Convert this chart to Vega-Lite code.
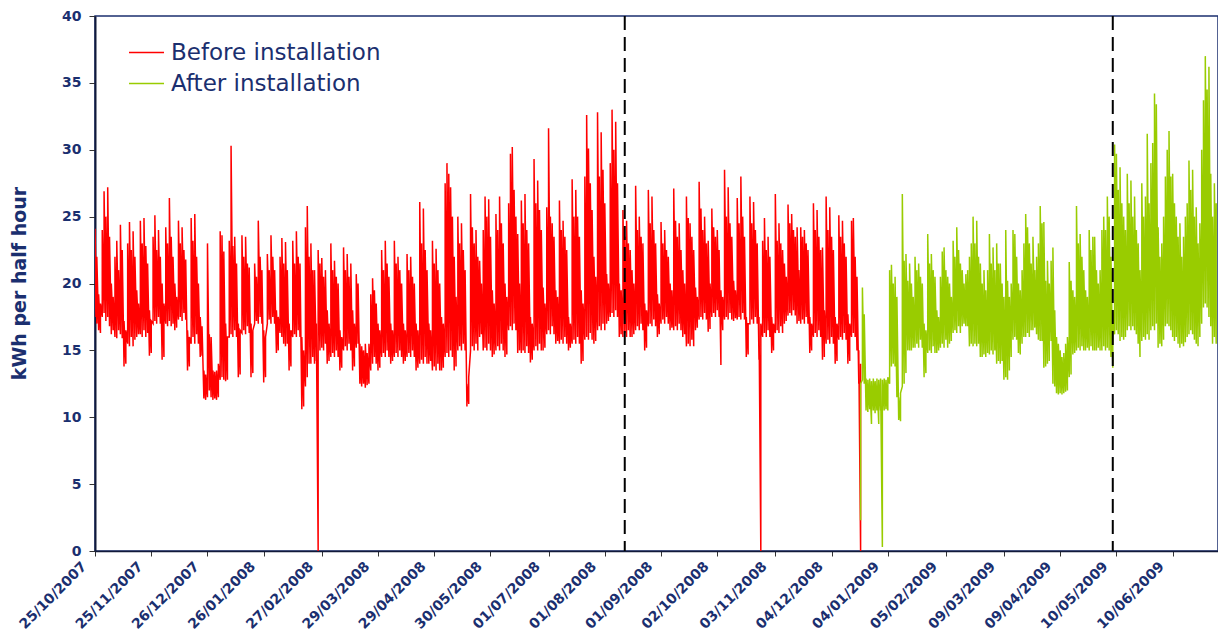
{
"$schema": "https://vega.github.io/schema/vega-lite/v6.json",
"width": 1123,
"height": 535,
"autosize": {"type": "none"},
"padding": {"left": 95, "top": 16, "right": 0, "bottom": 81},
"background": "white",
"config": {
  "view": {"stroke": "#1B2F6F", "strokeWidth": 1.5},
  "axis": {"grid": false, "labelFont": "DejaVu Sans", "labelFontWeight": "bold", "labelFontSize": 14, "labelColor": "#1B2F6F", "domainColor": "#111A3A", "tickColor": "#333333"}
},
"datasets": {
"before": [
{"d":"2007-10-25","l":17.5,"h":24.1},{"d":"2007-10-26","l":17,"h":22},{"d":"2007-10-27","l":16.5,"h":19.2},{"d":"2007-10-28","l":16.3,"h":18.5},
{"d":"2007-10-29","l":17.5,"h":24},{"d":"2007-10-30","l":17.8,"h":26.9},{"d":"2007-10-31","l":17.2,"h":25},{"d":"2007-11-01","l":17.5,"h":27.2},{"d":"2007-11-02","l":16.8,"h":23.5},{"d":"2007-11-03","l":16.2,"h":20},{"d":"2007-11-04","l":16.5,"h":19},
{"d":"2007-11-05","l":16,"h":22},{"d":"2007-11-06","l":15.9,"h":23.2},{"d":"2007-11-07","l":16.5,"h":21},{"d":"2007-11-08","l":16.2,"h":24.4},{"d":"2007-11-09","l":15.9,"h":22.5},{"d":"2007-11-10","l":13.8,"h":17.2},{"d":"2007-11-11","l":14,"h":16.5},
{"d":"2007-11-12","l":15.5,"h":23},{"d":"2007-11-13","l":15.3,"h":24.6},{"d":"2007-11-14","l":16,"h":22.5},{"d":"2007-11-15","l":15.3,"h":23.9},{"d":"2007-11-16","l":15.8,"h":22},{"d":"2007-11-17","l":16,"h":19.5},{"d":"2007-11-18","l":16.2,"h":18.5},
{"d":"2007-11-19","l":16.2,"h":24.7},{"d":"2007-11-20","l":16,"h":23},{"d":"2007-11-21","l":16.5,"h":24.9},{"d":"2007-11-22","l":16,"h":22.8},{"d":"2007-11-23","l":16.3,"h":21.5},{"d":"2007-11-24","l":14.6,"h":18},{"d":"2007-11-25","l":14.8,"h":17.2},
{"d":"2007-11-26","l":17,"h":23.5},{"d":"2007-11-27","l":17.2,"h":25.1},{"d":"2007-11-28","l":17,"h":22.5},{"d":"2007-11-29","l":17.5,"h":24},{"d":"2007-11-30","l":17,"h":22},{"d":"2007-12-01","l":14.3,"h":20},{"d":"2007-12-02","l":14.5,"h":18.5},
{"d":"2007-12-03","l":17,"h":24.2},{"d":"2007-12-04","l":16.8,"h":23},{"d":"2007-12-05","l":17.2,"h":26.4},{"d":"2007-12-06","l":16.8,"h":23.5},{"d":"2007-12-07","l":17,"h":22},{"d":"2007-12-08","l":16.5,"h":20},{"d":"2007-12-09","l":16.7,"h":19},
{"d":"2007-12-10","l":17.3,"h":24.7},{"d":"2007-12-11","l":17.5,"h":23},{"d":"2007-12-12","l":17.2,"h":24.2},{"d":"2007-12-13","l":17.8,"h":22.5},{"d":"2007-12-14","l":17.3,"h":21.8},{"d":"2007-12-15","l":13.5,"h":16.5},{"d":"2007-12-16","l":13.8,"h":16},
{"d":"2007-12-17","l":15.5,"h":24.9},{"d":"2007-12-18","l":16,"h":23.2},{"d":"2007-12-19","l":15.5,"h":25.2},{"d":"2007-12-20","l":16.2,"h":22},{"d":"2007-12-21","l":15.5,"h":20},{"d":"2007-12-22","l":14.5,"h":17.5},{"d":"2007-12-23","l":14.6,"h":16.8},
{"d":"2007-12-24","l":11.4,"h":13.5},{"d":"2007-12-25","l":11.3,"h":13.2},{"d":"2007-12-26","l":11.5,"h":23},{"d":"2007-12-27","l":12,"h":16.2},{"d":"2007-12-28","l":11.5,"h":16},{"d":"2007-12-29","l":11.3,"h":13.5},{"d":"2007-12-30","l":11.4,"h":13.4},
{"d":"2007-12-31","l":11.3,"h":13.5},{"d":"2008-01-01","l":11.5,"h":14},{"d":"2008-01-02","l":12.8,"h":23.9},{"d":"2008-01-03","l":13,"h":23.6},{"d":"2008-01-04","l":12.8,"h":22.4},{"d":"2008-01-05","l":12.7,"h":17},{"d":"2008-01-06","l":12.8,"h":16},
{"d":"2008-01-07","l":16,"h":23.2},{"d":"2008-01-08","l":16.2,"h":30.3},{"d":"2008-01-09","l":16,"h":22.8},{"d":"2008-01-10","l":16.5,"h":23.5},{"d":"2008-01-11","l":16,"h":21.5},{"d":"2008-01-12","l":13,"h":17},{"d":"2008-01-13","l":13.2,"h":16.5},
{"d":"2008-01-14","l":16.3,"h":23.6},{"d":"2008-01-15","l":16.5,"h":22},{"d":"2008-01-16","l":16.2,"h":23.5},{"d":"2008-01-17","l":16.8,"h":21.5},{"d":"2008-01-18","l":16.3,"h":21.2},{"d":"2008-01-19","l":13,"h":17},{"d":"2008-01-20","l":13.3,"h":16.5},
{"d":"2008-01-21","l":17,"h":21.5},{"d":"2008-01-22","l":17.2,"h":20.5},{"d":"2008-01-23","l":17,"h":24.7},{"d":"2008-01-24","l":17.5,"h":22},{"d":"2008-01-25","l":17,"h":21},{"d":"2008-01-26","l":12.6,"h":16.5},{"d":"2008-01-27","l":13,"h":16},
{"d":"2008-01-28","l":17,"h":22.2},{"d":"2008-01-29","l":17.3,"h":21},{"d":"2008-01-30","l":17,"h":23.6},{"d":"2008-01-31","l":17.5,"h":22},{"d":"2008-02-01","l":17,"h":21},{"d":"2008-02-02","l":14.8,"h":18},{"d":"2008-02-03","l":15,"h":17.5},
{"d":"2008-02-04","l":16.3,"h":22},{"d":"2008-02-05","l":16,"h":23.4},{"d":"2008-02-06","l":15.5,"h":21.5},{"d":"2008-02-07","l":15.3,"h":23.1},{"d":"2008-02-08","l":15.5,"h":21},{"d":"2008-02-09","l":13.5,"h":17},{"d":"2008-02-10","l":13.8,"h":16.5},
{"d":"2008-02-11","l":16,"h":23.2},{"d":"2008-02-12","l":16.2,"h":21.5},{"d":"2008-02-13","l":16,"h":23.9},{"d":"2008-02-14","l":16.5,"h":22},{"d":"2008-02-15","l":16,"h":21.5},{"d":"2008-02-16","l":10.6,"h":16},{"d":"2008-02-17","l":10.8,"h":15},
{"d":"2008-02-18","l":12.3,"h":24.2},{"d":"2008-02-19","l":13,"h":25.8},{"d":"2008-02-20","l":14,"h":22},{"d":"2008-02-21","l":14,"h":23},{"d":"2008-02-22","l":14.5,"h":21},{"d":"2008-02-23","l":14,"h":21},{"d":"2008-02-24","l":14.2,"h":17},
{"d":"2008-02-25","l":0,"h":22.5},{"d":"2008-02-26","l":15,"h":21.5},{"d":"2008-02-27","l":15.2,"h":21.9},{"d":"2008-02-28","l":15,"h":20.5},{"d":"2008-02-29","l":15.5,"h":21},{"d":"2008-03-01","l":14,"h":18},{"d":"2008-03-02","l":14.2,"h":17},
{"d":"2008-03-03","l":14.5,"h":23},{"d":"2008-03-04","l":14.8,"h":21},{"d":"2008-03-05","l":14.5,"h":21.7},{"d":"2008-03-06","l":15,"h":20.5},{"d":"2008-03-07","l":14.5,"h":20},{"d":"2008-03-08","l":13.5,"h":16.5},{"d":"2008-03-09","l":13.7,"h":16},
{"d":"2008-03-10","l":15,"h":22.7},{"d":"2008-03-11","l":15.3,"h":21},{"d":"2008-03-12","l":15,"h":22.2},{"d":"2008-03-13","l":15.5,"h":20.5},{"d":"2008-03-14","l":15,"h":21.5},{"d":"2008-03-15","l":13.5,"h":18},{"d":"2008-03-16","l":13.8,"h":17},
{"d":"2008-03-17","l":15.2,"h":20.7},{"d":"2008-03-18","l":15.5,"h":20},{"d":"2008-03-19","l":12.5,"h":15.5},{"d":"2008-03-20","l":12.3,"h":15.3},{"d":"2008-03-21","l":12.5,"h":15},{"d":"2008-03-22","l":12.2,"h":15.5},{"d":"2008-03-23","l":12.4,"h":14.8},
{"d":"2008-03-24","l":12.5,"h":15.5},{"d":"2008-03-25","l":13.5,"h":19.2},{"d":"2008-03-26","l":14,"h":20.4},{"d":"2008-03-27","l":14.5,"h":19.5},{"d":"2008-03-28","l":14,"h":18.5},{"d":"2008-03-29","l":13.5,"h":17},{"d":"2008-03-30","l":13.7,"h":16.5},
{"d":"2008-03-31","l":14.5,"h":22.5},{"d":"2008-04-01","l":14.8,"h":21},{"d":"2008-04-02","l":14.5,"h":23.2},{"d":"2008-04-03","l":15,"h":21.5},{"d":"2008-04-04","l":14.5,"h":20.5},{"d":"2008-04-05","l":14,"h":17},{"d":"2008-04-06","l":14.2,"h":16.5},
{"d":"2008-04-07","l":14.5,"h":23.2},{"d":"2008-04-08","l":14.8,"h":21.5},{"d":"2008-04-09","l":14.5,"h":22},{"d":"2008-04-10","l":15,"h":21},{"d":"2008-04-11","l":14.5,"h":20},{"d":"2008-04-12","l":14,"h":17},{"d":"2008-04-13","l":14.2,"h":16.5},
{"d":"2008-04-14","l":14.5,"h":22.2},{"d":"2008-04-15","l":14.8,"h":21},{"d":"2008-04-16","l":14.5,"h":22},{"d":"2008-04-17","l":15,"h":20.5},{"d":"2008-04-18","l":14.5,"h":20},{"d":"2008-04-19","l":13.5,"h":17},{"d":"2008-04-20","l":13.7,"h":16.5},
{"d":"2008-04-21","l":14,"h":26.1},{"d":"2008-04-22","l":14.3,"h":23},{"d":"2008-04-23","l":14,"h":25.6},{"d":"2008-04-24","l":14.5,"h":22.5},{"d":"2008-04-25","l":14,"h":21},{"d":"2008-04-26","l":14,"h":17},{"d":"2008-04-27","l":14.2,"h":16.5},
{"d":"2008-04-28","l":13.5,"h":23.2},{"d":"2008-04-29","l":13.8,"h":21.5},{"d":"2008-04-30","l":13.5,"h":22.6},{"d":"2008-05-01","l":14,"h":21},{"d":"2008-05-02","l":13.5,"h":20},{"d":"2008-05-03","l":13.5,"h":17.5},{"d":"2008-05-04","l":13.7,"h":17},
{"d":"2008-05-05","l":14.5,"h":27.5},{"d":"2008-05-06","l":14.8,"h":29},{"d":"2008-05-07","l":14.5,"h":28.2},{"d":"2008-05-08","l":15,"h":27.2},{"d":"2008-05-09","l":14.5,"h":25},{"d":"2008-05-10","l":13.5,"h":22},{"d":"2008-05-11","l":13.8,"h":19},
{"d":"2008-05-12","l":15,"h":25},{"d":"2008-05-13","l":15.3,"h":23},{"d":"2008-05-14","l":15,"h":24.5},{"d":"2008-05-15","l":15.5,"h":22.5},{"d":"2008-05-16","l":15,"h":21},{"d":"2008-05-17","l":10.8,"h":12.5},{"d":"2008-05-18","l":11,"h":13},
{"d":"2008-05-19","l":15,"h":26.7},{"d":"2008-05-20","l":15.3,"h":24.2},{"d":"2008-05-21","l":15,"h":23},{"d":"2008-05-22","l":15.5,"h":24},{"d":"2008-05-23","l":15,"h":22},{"d":"2008-05-24","l":16,"h":21.7},{"d":"2008-05-25","l":16.2,"h":20},
{"d":"2008-05-26","l":15,"h":24},{"d":"2008-05-27","l":15.2,"h":26.5},{"d":"2008-05-28","l":15,"h":25},{"d":"2008-05-29","l":15.5,"h":26.3},{"d":"2008-05-30","l":15,"h":23.5},{"d":"2008-05-31","l":14.5,"h":19.5},{"d":"2008-06-01","l":14.7,"h":18.5},
{"d":"2008-06-02","l":15,"h":25.2},{"d":"2008-06-03","l":15.3,"h":24},{"d":"2008-06-04","l":15,"h":26.5},{"d":"2008-06-05","l":15.5,"h":24.5},{"d":"2008-06-06","l":15,"h":23},{"d":"2008-06-07","l":14.5,"h":20},{"d":"2008-06-08","l":14.7,"h":19},
{"d":"2008-06-09","l":16.5,"h":26},{"d":"2008-06-10","l":16.8,"h":29.7},{"d":"2008-06-11","l":16.5,"h":30.2},{"d":"2008-06-12","l":17,"h":27},{"d":"2008-06-13","l":16.5,"h":25},{"d":"2008-06-14","l":14.8,"h":23.7},{"d":"2008-06-15","l":15,"h":20},
{"d":"2008-06-16","l":14.8,"h":26.2},{"d":"2008-06-17","l":15,"h":24.5},{"d":"2008-06-18","l":14.8,"h":26.7},{"d":"2008-06-19","l":15.3,"h":24},{"d":"2008-06-20","l":14.8,"h":23},{"d":"2008-06-21","l":14.1,"h":17.5},{"d":"2008-06-22","l":14.3,"h":17},
{"d":"2008-06-23","l":15,"h":29.3},{"d":"2008-06-24","l":15.3,"h":26},{"d":"2008-06-25","l":15,"h":27.7},{"d":"2008-06-26","l":15.5,"h":25.5},{"d":"2008-06-27","l":15,"h":24},{"d":"2008-06-28","l":15,"h":19.7},{"d":"2008-06-29","l":15.2,"h":18.5},
{"d":"2008-06-30","l":16.2,"h":25.7},{"d":"2008-07-01","l":16.5,"h":31.6},{"d":"2008-07-02","l":16.2,"h":25},{"d":"2008-07-03","l":16.8,"h":24.5},{"d":"2008-07-04","l":16.2,"h":23.5},{"d":"2008-07-05","l":15.5,"h":19.5},{"d":"2008-07-06","l":15.7,"h":19},
{"d":"2008-07-07","l":15.5,"h":26.2},{"d":"2008-07-08","l":15.8,"h":24},{"d":"2008-07-09","l":15.5,"h":24.7},{"d":"2008-07-10","l":16,"h":23.5},{"d":"2008-07-11","l":15.5,"h":22.5},{"d":"2008-07-12","l":15,"h":17.5},{"d":"2008-07-13","l":15.2,"h":17},
{"d":"2008-07-14","l":15.5,"h":27.8},{"d":"2008-07-15","l":15.8,"h":25},{"d":"2008-07-16","l":15.5,"h":27},{"d":"2008-07-17","l":16,"h":25},{"d":"2008-07-18","l":15.5,"h":23.5},{"d":"2008-07-19","l":14,"h":19.5},{"d":"2008-07-20","l":14.2,"h":18.5},
{"d":"2008-07-21","l":15.8,"h":28},{"d":"2008-07-22","l":16,"h":32.6},{"d":"2008-07-23","l":15.8,"h":30.1},{"d":"2008-07-24","l":16.3,"h":27.5},{"d":"2008-07-25","l":15.8,"h":25.5},{"d":"2008-07-26","l":15.5,"h":22},{"d":"2008-07-27","l":15.7,"h":20.5},
{"d":"2008-07-28","l":16.5,"h":32.8},{"d":"2008-07-29","l":16.8,"h":28},{"d":"2008-07-30","l":16.5,"h":31.3},{"d":"2008-07-31","l":17,"h":28.5},{"d":"2008-08-01","l":16.5,"h":26},{"d":"2008-08-02","l":17,"h":20.7},{"d":"2008-08-03","l":17.2,"h":20},
{"d":"2008-08-04","l":17.5,"h":29},{"d":"2008-08-05","l":17.8,"h":33},{"d":"2008-08-06","l":17.5,"h":30},{"d":"2008-08-07","l":18,"h":32.1},{"d":"2008-08-08","l":17.5,"h":27.5},{"d":"2008-08-09","l":16,"h":20},{"d":"2008-08-10","l":16.2,"h":19.5},
{"d":"2008-08-11","l":16,"h":25.5},{"d":"2008-08-12","l":16.3,"h":23.5},{"d":"2008-08-13","l":16,"h":24.7},{"d":"2008-08-14","l":16.5,"h":23},{"d":"2008-08-15","l":16,"h":22.5},{"d":"2008-08-16","l":16,"h":21},{"d":"2008-08-17","l":16.2,"h":20},
{"d":"2008-08-18","l":16.5,"h":27.3},{"d":"2008-08-19","l":16.8,"h":24},{"d":"2008-08-20","l":16.5,"h":25},{"d":"2008-08-21","l":17,"h":23.5},{"d":"2008-08-22","l":16.5,"h":23},{"d":"2008-08-23","l":15,"h":18.5},{"d":"2008-08-24","l":15.2,"h":18},
{"d":"2008-08-25","l":16.8,"h":27},{"d":"2008-08-26","l":17,"h":24.5},{"d":"2008-08-27","l":16.8,"h":26.5},{"d":"2008-08-28","l":17.3,"h":24},{"d":"2008-08-29","l":16.8,"h":23},{"d":"2008-08-30","l":16,"h":19.2},{"d":"2008-08-31","l":16.2,"h":18.5},
{"d":"2008-09-01","l":17,"h":24.6},{"d":"2008-09-02","l":17.3,"h":23},{"d":"2008-09-03","l":17,"h":24},{"d":"2008-09-04","l":17.5,"h":22.5},{"d":"2008-09-05","l":17,"h":22},{"d":"2008-09-06","l":16.5,"h":20},{"d":"2008-09-07","l":16.7,"h":19.5},
{"d":"2008-09-08","l":16.5,"h":27.1},{"d":"2008-09-09","l":16.8,"h":24.7},{"d":"2008-09-10","l":16.5,"h":23.5},{"d":"2008-09-11","l":17,"h":24.5},{"d":"2008-09-12","l":16.5,"h":22.5},{"d":"2008-09-13","l":16,"h":21},{"d":"2008-09-14","l":16.2,"h":20},
{"d":"2008-09-15","l":15.3,"h":26.5},{"d":"2008-09-16","l":15.5,"h":24.9},{"d":"2008-09-17","l":15.3,"h":24.5},{"d":"2008-09-18","l":15.8,"h":23.5},{"d":"2008-09-19","l":15.3,"h":22.5},{"d":"2008-09-20","l":16.5,"h":19.7},{"d":"2008-09-21","l":16.7,"h":19},
{"d":"2008-09-22","l":17.3,"h":27.6},{"d":"2008-09-23","l":17.5,"h":25.6},{"d":"2008-09-24","l":17.3,"h":24},{"d":"2008-09-25","l":17.8,"h":25},{"d":"2008-09-26","l":17.3,"h":23},{"d":"2008-09-27","l":16.4,"h":23.2},{"d":"2008-09-28","l":16.6,"h":20},
{"d":"2008-09-29","l":17.5,"h":25.6},{"d":"2008-09-30","l":17.8,"h":24.2},{"d":"2008-10-01","l":17.5,"h":23.5},{"d":"2008-10-02","l":18,"h":24},{"d":"2008-10-03","l":17.5,"h":22.5},{"d":"2008-10-04","l":13.9,"h":19.5},{"d":"2008-10-05","l":16.5,"h":19},
{"d":"2008-10-06","l":17.3,"h":28.5},{"d":"2008-10-07","l":17.5,"h":25},{"d":"2008-10-08","l":17.3,"h":27.2},{"d":"2008-10-09","l":17.8,"h":24.5},{"d":"2008-10-10","l":17.3,"h":23.5},{"d":"2008-10-11","l":17.2,"h":20.2},{"d":"2008-10-12","l":17.4,"h":19.5},
{"d":"2008-10-13","l":17.3,"h":26.4},{"d":"2008-10-14","l":17.5,"h":24.5},{"d":"2008-10-15","l":17.3,"h":28},{"d":"2008-10-16","l":17.8,"h":25},{"d":"2008-10-17","l":17.3,"h":23.5},{"d":"2008-10-18","l":14.5,"h":17.5},{"d":"2008-10-19","l":14.7,"h":17},
{"d":"2008-10-20","l":17,"h":26.5},{"d":"2008-10-21","l":17.3,"h":24.5},{"d":"2008-10-22","l":17,"h":26.1},{"d":"2008-10-23","l":17.5,"h":24},{"d":"2008-10-24","l":17,"h":23},{"d":"2008-10-25","l":14.3,"h":17.5},{"d":"2008-10-26","l":0,"h":17},
{"d":"2008-10-27","l":16,"h":23.2},{"d":"2008-10-28","l":16.3,"h":24.9},{"d":"2008-10-29","l":16,"h":22.5},{"d":"2008-10-30","l":16.5,"h":23.5},{"d":"2008-10-31","l":16,"h":22},{"d":"2008-11-01","l":14.8,"h":17.5},{"d":"2008-11-02","l":15,"h":17},
{"d":"2008-11-03","l":16.3,"h":26.7},{"d":"2008-11-04","l":16.5,"h":23.2},{"d":"2008-11-05","l":16.3,"h":24.5},{"d":"2008-11-06","l":16.8,"h":23},{"d":"2008-11-07","l":16.3,"h":22.5},{"d":"2008-11-08","l":17,"h":21.5},{"d":"2008-11-09","l":17.2,"h":20.5},
{"d":"2008-11-10","l":17.6,"h":25.9},{"d":"2008-11-11","l":17.8,"h":24.5},{"d":"2008-11-12","l":17.6,"h":25.2},{"d":"2008-11-13","l":18,"h":24},{"d":"2008-11-14","l":17.6,"h":23.5},{"d":"2008-11-15","l":17,"h":24.2},{"d":"2008-11-16","l":17.2,"h":21},
{"d":"2008-11-17","l":17,"h":24.2},{"d":"2008-11-18","l":17.3,"h":23.5},{"d":"2008-11-19","l":17,"h":24},{"d":"2008-11-20","l":17.5,"h":23},{"d":"2008-11-21","l":17,"h":22.5},{"d":"2008-11-22","l":14.8,"h":17.5},{"d":"2008-11-23","l":15,"h":17},
{"d":"2008-11-24","l":16,"h":26},{"d":"2008-11-25","l":16.3,"h":24},{"d":"2008-11-26","l":16,"h":25.5},{"d":"2008-11-27","l":16.5,"h":23.5},{"d":"2008-11-28","l":16,"h":22.5},{"d":"2008-11-29","l":14.3,"h":22.7},{"d":"2008-11-30","l":14.5,"h":18},
{"d":"2008-12-01","l":15.5,"h":26.5},{"d":"2008-12-02","l":15.8,"h":24},{"d":"2008-12-03","l":15.5,"h":25.7},{"d":"2008-12-04","l":16,"h":23.5},{"d":"2008-12-05","l":15.5,"h":22.5},{"d":"2008-12-06","l":14,"h":17.5},{"d":"2008-12-07","l":14.2,"h":17},
{"d":"2008-12-08","l":15.8,"h":25.1},{"d":"2008-12-09","l":16,"h":23.5},{"d":"2008-12-10","l":15.8,"h":24.7},{"d":"2008-12-11","l":16.3,"h":23},{"d":"2008-12-12","l":15.8,"h":22},{"d":"2008-12-13","l":14,"h":17.7},{"d":"2008-12-14","l":14.2,"h":17},
{"d":"2008-12-15","l":16,"h":24.7},{"d":"2008-12-16","l":16.3,"h":24.9},{"d":"2008-12-17","l":16,"h":22},{"d":"2008-12-18","l":15,"h":20.5},{"d":"2008-12-19","l":12.5,"h":15},{"d":"2008-12-20","l":0,"h":14}
],
"after": [
{"d":"2008-12-20","l":2.3,"h":12.5},{"d":"2008-12-21","l":12.8,"h":19.7},{"d":"2008-12-22","l":12.5,"h":17.7},{"d":"2008-12-23","l":10.5,"h":12.9},{"d":"2008-12-24","l":10.4,"h":12.8},{"d":"2008-12-25","l":10.6,"h":12.9},{"d":"2008-12-26","l":9.5,"h":12.7},{"d":"2008-12-27","l":10.5,"h":12.9},{"d":"2008-12-28","l":10.3,"h":12.7},{"d":"2008-12-29","l":10.5,"h":12.9},{"d":"2008-12-30","l":9.5,"h":12.8},{"d":"2008-12-31","l":10.5,"h":12.9},
{"d":"2009-01-01","l":0.3,"h":12.8},{"d":"2009-01-02","l":10.5,"h":12.9},{"d":"2009-01-03","l":10.6,"h":12.8},{"d":"2009-01-04","l":10.5,"h":13},{"d":"2009-01-05","l":12.5,"h":21},{"d":"2009-01-06","l":13.8,"h":21.4},{"d":"2009-01-07","l":14,"h":20},{"d":"2009-01-08","l":13.8,"h":20.5},{"d":"2009-01-09","l":11.5,"h":19},{"d":"2009-01-10","l":9.8,"h":11.5},{"d":"2009-01-11","l":9.7,"h":11.8},
{"d":"2009-01-12","l":12.3,"h":26.7},{"d":"2009-01-13","l":12.5,"h":21.7},{"d":"2009-01-14","l":13.3,"h":22.2},{"d":"2009-01-15","l":15,"h":20.2},{"d":"2009-01-16","l":15,"h":21.5},{"d":"2009-01-17","l":15,"h":20},{"d":"2009-01-18","l":15.2,"h":19},
{"d":"2009-01-19","l":15.2,"h":22},{"d":"2009-01-20","l":15.5,"h":21},{"d":"2009-01-21","l":15.2,"h":21.5},{"d":"2009-01-22","l":15.8,"h":20.5},{"d":"2009-01-23","l":15.2,"h":20},{"d":"2009-01-24","l":13,"h":17},{"d":"2009-01-25","l":13.3,"h":16.5},
{"d":"2009-01-26","l":14.8,"h":23.7},{"d":"2009-01-27","l":15,"h":21.5},{"d":"2009-01-28","l":14.8,"h":22.2},{"d":"2009-01-29","l":15.3,"h":21},{"d":"2009-01-30","l":14.8,"h":20.5},{"d":"2009-01-31","l":14.8,"h":18},{"d":"2009-02-01","l":15,"h":17.5},
{"d":"2009-02-02","l":15.2,"h":20.5},{"d":"2009-02-03","l":15.5,"h":22.4},{"d":"2009-02-04","l":15.2,"h":22.7},{"d":"2009-02-05","l":15.8,"h":21},{"d":"2009-02-06","l":15.2,"h":20.5},{"d":"2009-02-07","l":15.5,"h":20},{"d":"2009-02-08","l":15.7,"h":19},
{"d":"2009-02-09","l":16.3,"h":23.2},{"d":"2009-02-10","l":16.5,"h":22},{"d":"2009-02-11","l":16.3,"h":24.2},{"d":"2009-02-12","l":16.8,"h":22.5},{"d":"2009-02-13","l":16.3,"h":21.5},{"d":"2009-02-14","l":16.8,"h":21},{"d":"2009-02-15","l":17,"h":20},
{"d":"2009-02-16","l":16.8,"h":20.7},{"d":"2009-02-17","l":16.8,"h":21},{"d":"2009-02-18","l":15.3,"h":22},{"d":"2009-02-19","l":15.5,"h":23},{"d":"2009-02-20","l":15.3,"h":25},{"d":"2009-02-21","l":15.5,"h":23},{"d":"2009-02-22","l":15.3,"h":24.7},
{"d":"2009-02-23","l":15.5,"h":22},{"d":"2009-02-24","l":14.5,"h":21.5},{"d":"2009-02-25","l":14.5,"h":20},{"d":"2009-02-26","l":14.7,"h":21},{"d":"2009-02-27","l":14.5,"h":19.5},{"d":"2009-02-28","l":14.8,"h":21},{"d":"2009-03-01","l":14.7,"h":23.7},
{"d":"2009-03-02","l":15,"h":21.5},{"d":"2009-03-03","l":14.7,"h":22.7},{"d":"2009-03-04","l":15,"h":21},{"d":"2009-03-05","l":14,"h":23},{"d":"2009-03-06","l":14.2,"h":21.5},{"d":"2009-03-07","l":14,"h":21.5},{"d":"2009-03-08","l":14.2,"h":20},
{"d":"2009-03-09","l":12.8,"h":19},{"d":"2009-03-10","l":13,"h":24},{"d":"2009-03-11","l":12.8,"h":20.2},{"d":"2009-03-12","l":13.5,"h":19},{"d":"2009-03-13","l":14.5,"h":20},{"d":"2009-03-14","l":15.8,"h":24},{"d":"2009-03-15","l":16,"h":23.7},
{"d":"2009-03-16","l":15.8,"h":22},{"d":"2009-03-17","l":14.8,"h":20},{"d":"2009-03-18","l":14.7,"h":19.5},{"d":"2009-03-19","l":15.5,"h":21},{"d":"2009-03-20","l":16,"h":23},{"d":"2009-03-21","l":16,"h":25.2},{"d":"2009-03-22","l":16.3,"h":24.2},
{"d":"2009-03-23","l":16,"h":23},{"d":"2009-03-24","l":16.5,"h":21.5},{"d":"2009-03-25","l":16.5,"h":23.5},{"d":"2009-03-26","l":16.7,"h":21},{"d":"2009-03-27","l":16.2,"h":22},{"d":"2009-03-28","l":15.8,"h":23},{"d":"2009-03-29","l":15.7,"h":25.8},
{"d":"2009-03-30","l":15.7,"h":24.5},{"d":"2009-03-31","l":13.7,"h":24.6},{"d":"2009-04-01","l":13.8,"h":20.2},{"d":"2009-04-02","l":14,"h":21.7},{"d":"2009-04-03","l":14.2,"h":20},{"d":"2009-04-04","l":15.7,"h":21.7},{"d":"2009-04-05","l":12.5,"h":22.7},
{"d":"2009-04-06","l":12.3,"h":18},{"d":"2009-04-07","l":11.8,"h":16},{"d":"2009-04-08","l":11.7,"h":15.5},{"d":"2009-04-09","l":11.8,"h":15},{"d":"2009-04-10","l":11.7,"h":14.5},{"d":"2009-04-11","l":11.8,"h":14.8},{"d":"2009-04-12","l":11.9,"h":15.5},
{"d":"2009-04-13","l":12,"h":16},{"d":"2009-04-14","l":13,"h":21.6},{"d":"2009-04-15","l":13.2,"h":20.2},{"d":"2009-04-16","l":14.7,"h":19.5},{"d":"2009-04-17","l":14.8,"h":19},{"d":"2009-04-18","l":15,"h":25.8},{"d":"2009-04-19","l":15.2,"h":23},
{"d":"2009-04-20","l":15,"h":23.7},{"d":"2009-04-21","l":15.3,"h":22},{"d":"2009-04-22","l":15,"h":21},{"d":"2009-04-23","l":15,"h":19.5},{"d":"2009-04-24","l":15.2,"h":19},{"d":"2009-04-25","l":15,"h":24},{"d":"2009-04-26","l":15.3,"h":22.5},
{"d":"2009-04-27","l":15,"h":23.5},{"d":"2009-04-28","l":15,"h":23.5},{"d":"2009-04-29","l":15,"h":21},{"d":"2009-04-30","l":15.2,"h":20},{"d":"2009-05-01","l":15,"h":21},{"d":"2009-05-02","l":15,"h":24},{"d":"2009-05-03","l":15.3,"h":25},
{"d":"2009-05-04","l":15,"h":24},{"d":"2009-05-05","l":15.2,"h":26.5},{"d":"2009-05-06","l":15,"h":25},{"d":"2009-05-07","l":14.5,"h":22},{"d":"2009-05-08","l":13.7,"h":18},{"d":"2009-05-09","l":16.2,"h":30.4},{"d":"2009-05-10","l":16.5,"h":29.7},
{"d":"2009-05-11","l":16.2,"h":27},{"d":"2009-05-12","l":15.7,"h":28.7},{"d":"2009-05-13","l":16,"h":26},{"d":"2009-05-14","l":15.8,"h":25},{"d":"2009-05-15","l":16,"h":24},{"d":"2009-05-16","l":16.5,"h":28.2},{"d":"2009-05-17","l":16.8,"h":26},
{"d":"2009-05-18","l":16.5,"h":27.7},{"d":"2009-05-19","l":16.8,"h":25},{"d":"2009-05-20","l":16.5,"h":26.5},{"d":"2009-05-21","l":16.2,"h":24},{"d":"2009-05-22","l":15.5,"h":23},{"d":"2009-05-23","l":14.5,"h":21},{"d":"2009-05-24","l":15.7,"h":27.5},
{"d":"2009-05-25","l":16,"h":25},{"d":"2009-05-26","l":15.8,"h":26.5},{"d":"2009-05-27","l":16.2,"h":31.2},{"d":"2009-05-28","l":15.8,"h":26},{"d":"2009-05-29","l":16.5,"h":29},{"d":"2009-05-30","l":16.8,"h":30.5},{"d":"2009-05-31","l":16.5,"h":34.2},
{"d":"2009-06-01","l":17,"h":33.4},{"d":"2009-06-02","l":15.2,"h":24.2},{"d":"2009-06-03","l":15.5,"h":22},{"d":"2009-06-04","l":15.3,"h":23},{"d":"2009-06-05","l":15.8,"h":25},{"d":"2009-06-06","l":16.8,"h":28},{"d":"2009-06-07","l":17,"h":30},
{"d":"2009-06-08","l":16.8,"h":31.4},{"d":"2009-06-09","l":16.5,"h":28},{"d":"2009-06-10","l":16,"h":28.2},{"d":"2009-06-11","l":15.7,"h":26},{"d":"2009-06-12","l":16,"h":25},{"d":"2009-06-13","l":15.5,"h":23.5},{"d":"2009-06-14","l":15.2,"h":24.5},
{"d":"2009-06-15","l":15.5,"h":22},{"d":"2009-06-16","l":15.3,"h":23.5},{"d":"2009-06-17","l":15.6,"h":25},{"d":"2009-06-18","l":16,"h":26},{"d":"2009-06-19","l":16.2,"h":29.2},{"d":"2009-06-20","l":16.5,"h":27},{"d":"2009-06-21","l":16.2,"h":28.5},
{"d":"2009-06-22","l":15.8,"h":25},{"d":"2009-06-23","l":15.5,"h":25.7},{"d":"2009-06-24","l":15.3,"h":23},{"d":"2009-06-25","l":16,"h":24.5},{"d":"2009-06-26","l":17,"h":30},{"d":"2009-06-27","l":18.2,"h":33.7},{"d":"2009-06-28","l":18.5,"h":37},
{"d":"2009-06-29","l":18.2,"h":34.5},{"d":"2009-06-30","l":17.5,"h":36.2},{"d":"2009-07-01","l":16.8,"h":28.2},{"d":"2009-07-02","l":15.5,"h":25},{"d":"2009-07-03","l":16,"h":27.5},{"d":"2009-07-04","l":15.5,"h":26}
],
"markers": [{"d":"2008-08-12"},{"d":"2009-05-08"}]
},
"layer": [
{
  "data": {"name": "before"},
  "transform": [{"fold": ["l", "h"], "as": ["k", "v"]}],
  "mark": {"type": "line", "strokeWidth": 1.5, "clip": true},
  "encoding": {
    "x": {"field": "d", "type": "temporal",
      "scale": {"type": "utc", "domain": [{"year": 2007, "month": 10, "date": 25, "utc": true}, {"year": 2009, "month": 7, "date": 5, "utc": true}]},
      "axis": {"title": null, "format": "%d/%m/%Y",
        "values": [
          {"year": 2007, "month": 10, "date": 25, "utc": true}, {"year": 2007, "month": 11, "date": 25, "utc": true}, {"year": 2007, "month": 12, "date": 26, "utc": true},
          {"year": 2008, "month": 1, "date": 26, "utc": true}, {"year": 2008, "month": 2, "date": 27, "utc": true}, {"year": 2008, "month": 3, "date": 29, "utc": true},
          {"year": 2008, "month": 4, "date": 29, "utc": true}, {"year": 2008, "month": 5, "date": 30, "utc": true}, {"year": 2008, "month": 7, "date": 1, "utc": true},
          {"year": 2008, "month": 8, "date": 1, "utc": true}, {"year": 2008, "month": 9, "date": 1, "utc": true}, {"year": 2008, "month": 10, "date": 2, "utc": true},
          {"year": 2008, "month": 11, "date": 3, "utc": true}, {"year": 2008, "month": 12, "date": 4, "utc": true}, {"year": 2009, "month": 1, "date": 4, "utc": true},
          {"year": 2009, "month": 2, "date": 5, "utc": true}, {"year": 2009, "month": 3, "date": 9, "utc": true}, {"year": 2009, "month": 4, "date": 9, "utc": true},
          {"year": 2009, "month": 5, "date": 10, "utc": true}, {"year": 2009, "month": 6, "date": 10, "utc": true}
        ],
        "labelAngle": -45, "labelAlign": "right", "labelBaseline": "middle", "labelPadding": 8, "labelOffset": -11,
        "labelOverlap": false, "labelBound": false, "labelFlush": false, "tickSize": 5, "domainWidth": 1.5}},
    "y": {"field": "v", "type": "quantitative",
      "scale": {"domain": [0, 40], "nice": false, "zero": true},
      "axis": {"title": "kWh per half hour", "values": [0, 5, 10, 15, 20, 25, 30, 35, 40], "tickSize": 6, "labelPadding": 8, "domainWidth": 2,
        "titleFont": "DejaVu Sans", "titleFontWeight": "bold", "titleFontSize": 19, "titleColor": "#1B2F6F",
        "titleAngle": 270, "titleX": -70, "titleY": 267, "titleAlign": "center", "titleBaseline": "alphabetic"}},
    "color": {"datum": "Before installation", "type": "nominal",
      "scale": {"domain": ["Before installation", "After installation"], "range": ["#FF0000", "#99CC00"]},
      "legend": {"title": null, "orient": "none", "legendX": 33, "legendY": 18, "symbolType": "stroke", "symbolSize": 1225, "symbolStrokeWidth": 1.5,
        "labelFont": "DejaVu Sans", "labelFontSize": 23, "labelColor": "#1B2F6F", "labelOffset": 6, "labelLimit": 500, "rowPadding": 0, "padding": 0}}
  }
},
{
  "data": {"name": "after"},
  "transform": [{"fold": ["l", "h"], "as": ["k", "v"]}],
  "mark": {"type": "line", "strokeWidth": 1.5, "clip": true},
  "encoding": {
    "x": {"field": "d", "type": "temporal"},
    "y": {"field": "v", "type": "quantitative"},
    "color": {"datum": "After installation", "type": "nominal"}
  }
},
{
  "data": {"name": "markers"},
  "mark": {"type": "rule", "strokeDash": [14, 7], "strokeWidth": 2, "color": "#000000"},
  "encoding": {
    "x": {"field": "d", "type": "temporal"}
  }
}
]
}
